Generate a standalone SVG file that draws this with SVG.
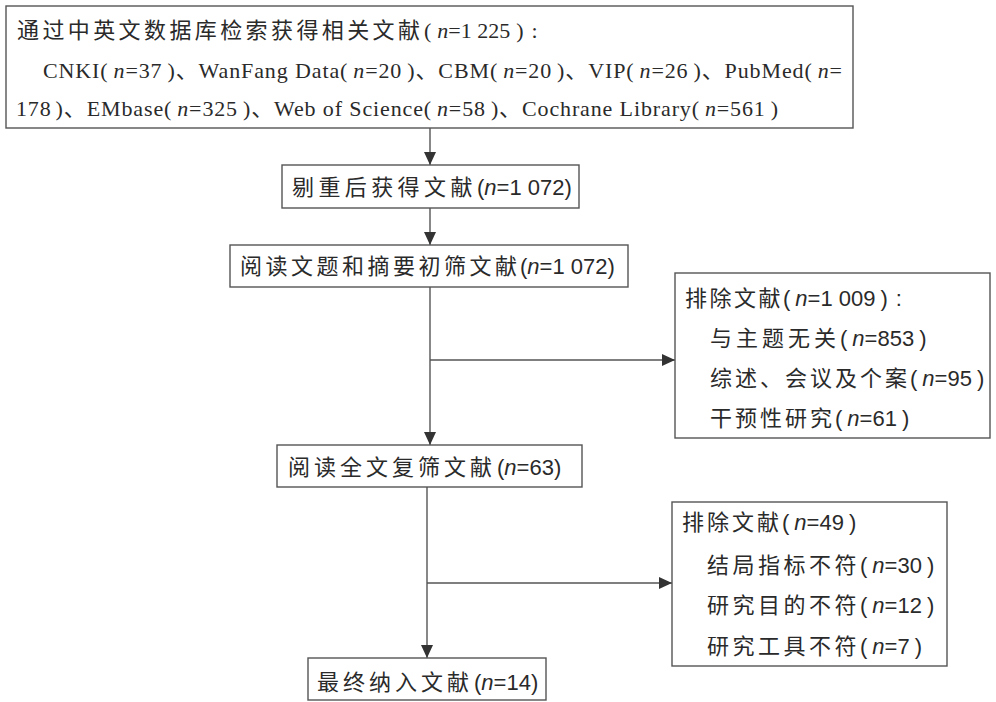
<svg xmlns="http://www.w3.org/2000/svg" width="996" height="702" viewBox="0 0 996 702">
<style>
.box{fill:#fff;stroke:#555;stroke-width:1.4}
.ln{fill:none;stroke:#555;stroke-width:1.4}
text{fill:#2a2a2a;font-size:22px}
.sf{font-family:"Liberation Serif","Noto Sans CJK SC",serif}
.ss{font-family:"Liberation Sans","Noto Sans CJK SC",sans-serif}
.zh{font-family:"Noto Sans CJK SC",sans-serif;letter-spacing:4px}
.zh2{font-family:"Noto Sans CJK SC",sans-serif;letter-spacing:3px}
.i{font-style:italic}
</style>
<defs>
<marker id="ah" markerUnits="userSpaceOnUse" markerWidth="14" markerHeight="12" refX="13" refY="6" orient="auto">
<path d="M0,0 L13,6 L0,12 Z" fill="#333"/>
</marker>
</defs>
<rect width="996" height="702" fill="#fff"/>
<g id="connectors">
<path class="ln" d="M430,128 V165" marker-end="url(#ah)"/>
<path class="ln" d="M430,208 V245" marker-end="url(#ah)"/>
<path class="ln" d="M430,287 V445" marker-end="url(#ah)"/>
<path class="ln" d="M430,360 H675" marker-end="url(#ah)"/>
<path class="ln" d="M427,487 V658" marker-end="url(#ah)"/>
<path class="ln" d="M427,583 H672" marker-end="url(#ah)"/>
</g>
<g id="n1">
<rect class="box" x="6" y="6" width="847" height="122"/>
<text class="sf" x="17" y="38"><tspan style="letter-spacing:3.4px">通过中英文数据库检索获得相关文献</tspan><tspan x="424">(</tspan><tspan class="i" dx="6">n</tspan>=1 225<tspan dx="6">)</tspan><tspan dx="8">:</tspan></text>
<text class="sf" x="43" y="78" textLength="799">CNKI(<tspan class="i" dx="5">n</tspan>=37<tspan dx="5">)</tspan>、WanFang Data(<tspan class="i" dx="5">n</tspan>=20<tspan dx="5">)</tspan>、CBM(<tspan class="i" dx="5">n</tspan>=20<tspan dx="5">)</tspan>、VIP(<tspan class="i" dx="5">n</tspan>=26<tspan dx="5">)</tspan>、PubMed(<tspan class="i" dx="5">n</tspan>=</text>
<text class="sf" x="16" y="116" textLength="762">178<tspan dx="4">)</tspan>、EMbase(<tspan class="i" dx="5">n</tspan>=325<tspan dx="5">)</tspan>、Web of Science(<tspan class="i" dx="5">n</tspan>=58<tspan dx="5">)</tspan>、Cochrane Library(<tspan class="i" dx="5">n</tspan>=561<tspan dx="5">)</tspan></text>
</g>
<g id="n2">
<rect class="box" x="282" y="165" width="297" height="43"/>
<text class="ss" x="292" y="195"><tspan class="zh" style="letter-spacing:4.4px">剔重后获得文献</tspan><tspan x="477">(</tspan><tspan class="i">n</tspan>=1 072)</text>
</g>
<g id="n3">
<rect class="box" x="230" y="245" width="398" height="42"/>
<text class="ss" x="240" y="274"><tspan class="zh" style="letter-spacing:3.5px">阅读文题和摘要初筛文献</tspan><tspan x="520">(</tspan><tspan class="i">n</tspan>=1 072)</text>
</g>
<g id="ex1">
<rect class="box" x="675" y="273" width="315" height="165"/>
<text class="ss" x="685" y="306"><tspan class="zh2" style="letter-spacing:2.5px">排除文献</tspan><tspan x="783">(</tspan><tspan class="i" dx="5">n</tspan>=1 009<tspan dx="5">)</tspan><tspan dx="8">:</tspan></text>
<text class="ss" x="710" y="346"><tspan class="zh2" style="letter-spacing:4px">与主题无关</tspan><tspan x="840">(</tspan><tspan class="i" dx="5">n</tspan>=853<tspan dx="5">)</tspan></text>
<text class="ss" x="710" y="386"><tspan class="zh2">综述、会议及个案</tspan><tspan x="910">(</tspan><tspan class="i" dx="5">n</tspan>=95<tspan dx="5">)</tspan></text>
<text class="ss" x="710" y="426"><tspan class="zh2">干预性研究</tspan><tspan x="835">(</tspan><tspan class="i" dx="5">n</tspan>=61<tspan dx="5">)</tspan></text>
</g>
<g id="n4">
<rect class="box" x="277" y="445" width="305" height="42"/>
<text class="ss" x="288" y="475"><tspan class="zh">阅读全文复筛文献</tspan><tspan x="497">(</tspan><tspan class="i">n</tspan>=63)</text>
</g>
<g id="ex2">
<rect class="box" x="672" y="502" width="275" height="164"/>
<text class="ss" x="682" y="530"><tspan class="zh2">排除文献</tspan><tspan x="782">(</tspan><tspan class="i" dx="5">n</tspan>=49<tspan dx="5">)</tspan></text>
<text class="ss" x="707" y="573"><tspan class="zh2" style="letter-spacing:3.5px">结局指标不符</tspan><tspan x="860">(</tspan><tspan class="i" dx="5">n</tspan>=30<tspan dx="5">)</tspan></text>
<text class="ss" x="707" y="613"><tspan class="zh2" style="letter-spacing:3.5px">研究目的不符</tspan><tspan x="860">(</tspan><tspan class="i" dx="5">n</tspan>=12<tspan dx="5">)</tspan></text>
<text class="ss" x="707" y="654"><tspan class="zh2" style="letter-spacing:3.5px">研究工具不符</tspan><tspan x="860">(</tspan><tspan class="i" dx="5">n</tspan>=7<tspan dx="5">)</tspan></text>
</g>
<g id="n5">
<rect class="box" x="308" y="658" width="238" height="42"/>
<text class="ss" x="317" y="690"><tspan class="zh">最终纳入文献</tspan><tspan x="474">(</tspan><tspan class="i">n</tspan>=14)</text>
</g>
</svg>
